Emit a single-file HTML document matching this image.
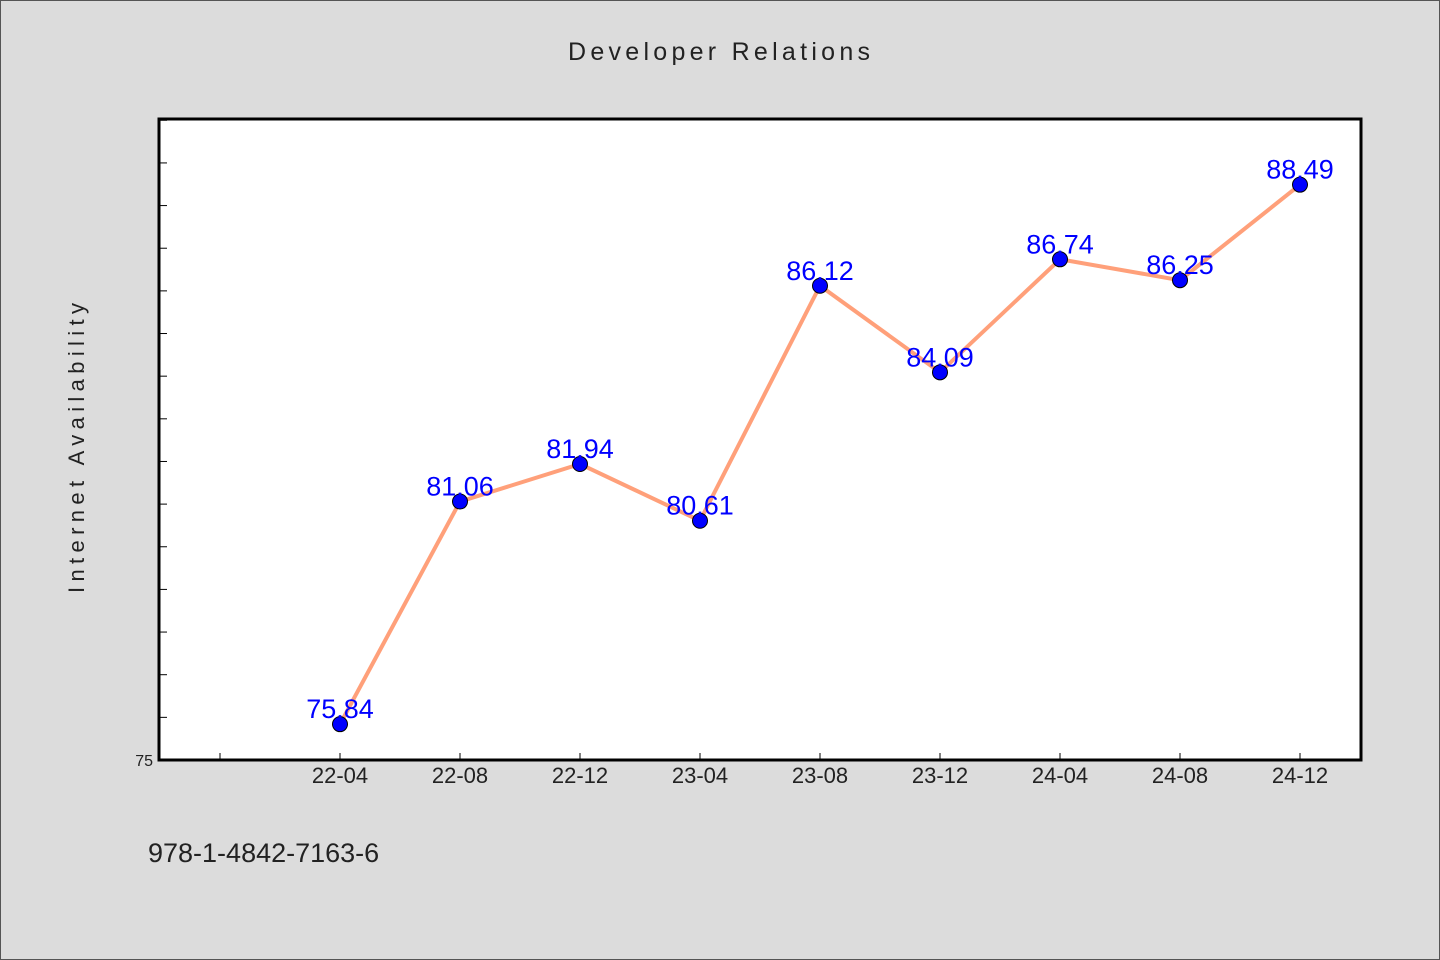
<!DOCTYPE html>
<html><head><meta charset="utf-8"><style>
html,body{margin:0;padding:0;background:#dcdcdc;}
svg{display:block;font-family:"WenQuanYi Zen Hei","Liberation Sans",sans-serif;}
</style></head><body>
<svg id="chart" width="1440" height="960" viewBox="0 0 1440 960" xmlns="http://www.w3.org/2000/svg">
<rect x="0.5" y="0.5" width="1439" height="959" fill="#dcdcdc" stroke="#555"/>
<text x="719" y="60" text-anchor="middle" font-size="25" fill="#222" textLength="302">Developer Relations</text>
<rect x="159" y="119" width="1202" height="641" fill="#fff" stroke="#000" stroke-width="3"/>
<text transform="translate(84,448) rotate(-90)" text-anchor="middle" font-size="22" fill="#222" textLength="290">Internet Availability</text>
<text x="148" y="862" font-size="27" fill="#222">978-1-4842-7163-6</text>
<g id="axes"></g><g id="series"></g>
</svg>
<script>
const categories=["22-04","22-08","22-12","23-04","23-08","23-12","24-04","24-08","24-12"];
const values=[75.84,81.06,81.94,80.61,86.12,84.09,86.74,86.25,88.49];
const yTicks=[75,76,77,78,79,80,81,82,83,84,85,86,87,88,89,90];
const NS="http://www.w3.org/2000/svg";
const X0=159,X1=1361,Y0=760,Y1=119,YMIN=75,YMAX=90.03;
function x(i){return 340+120*i;}
function y(v){return Y0-(v-YMIN)/(YMAX-YMIN)*(Y0-Y1);}
function mk(t,a,p){const e=document.createElementNS(NS,t);for(const k in a)e.setAttribute(k,a[k]);p.appendChild(e);return e;}
const axes=document.getElementById('axes'),ser=document.getElementById('series');
yTicks.forEach(v=>{
  const l=mk('line',{x1:X0,x2:X0+8,y1:y(v),y2:y(v),stroke:'#000','stroke-width':1},axes);
  
  
});
const yl=mk('text',{x:153,y:766,'text-anchor':'end','font-size':16,fill:'#222'},axes);


yl.textContent=String(yTicks[0]);
for(let i=-1;i<categories.length;i++){
  const t=mk('line',{x1:x(i),x2:x(i),y1:Y0,y2:Y0-7,stroke:'#000','stroke-width':1},axes);
  
  
  if(i>=0){
    const tl=mk('text',{x:x(i),y:783,'text-anchor':'middle','font-size':22,fill:'#222'},axes);
    
    
    tl.textContent=categories[i];
  }
}
const pl=mk('polyline',{points:values.map((v,i)=>x(i)+','+y(v)).join(' '),fill:'none',stroke:'#ffa07a','stroke-width':4},ser);


values.forEach((v,i)=>{
  const c=mk('circle',{cx:x(i),cy:y(v),r:7.5,fill:'#0000ff',stroke:'#000','stroke-width':1},ser);
  
  
  const t=mk('text',{x:x(i),y:y(v)-6,'text-anchor':'middle','font-size':27,fill:'#0000ff'},ser);
  
  
  t.textContent=v.toFixed(2);
});
</script>
</body></html>
